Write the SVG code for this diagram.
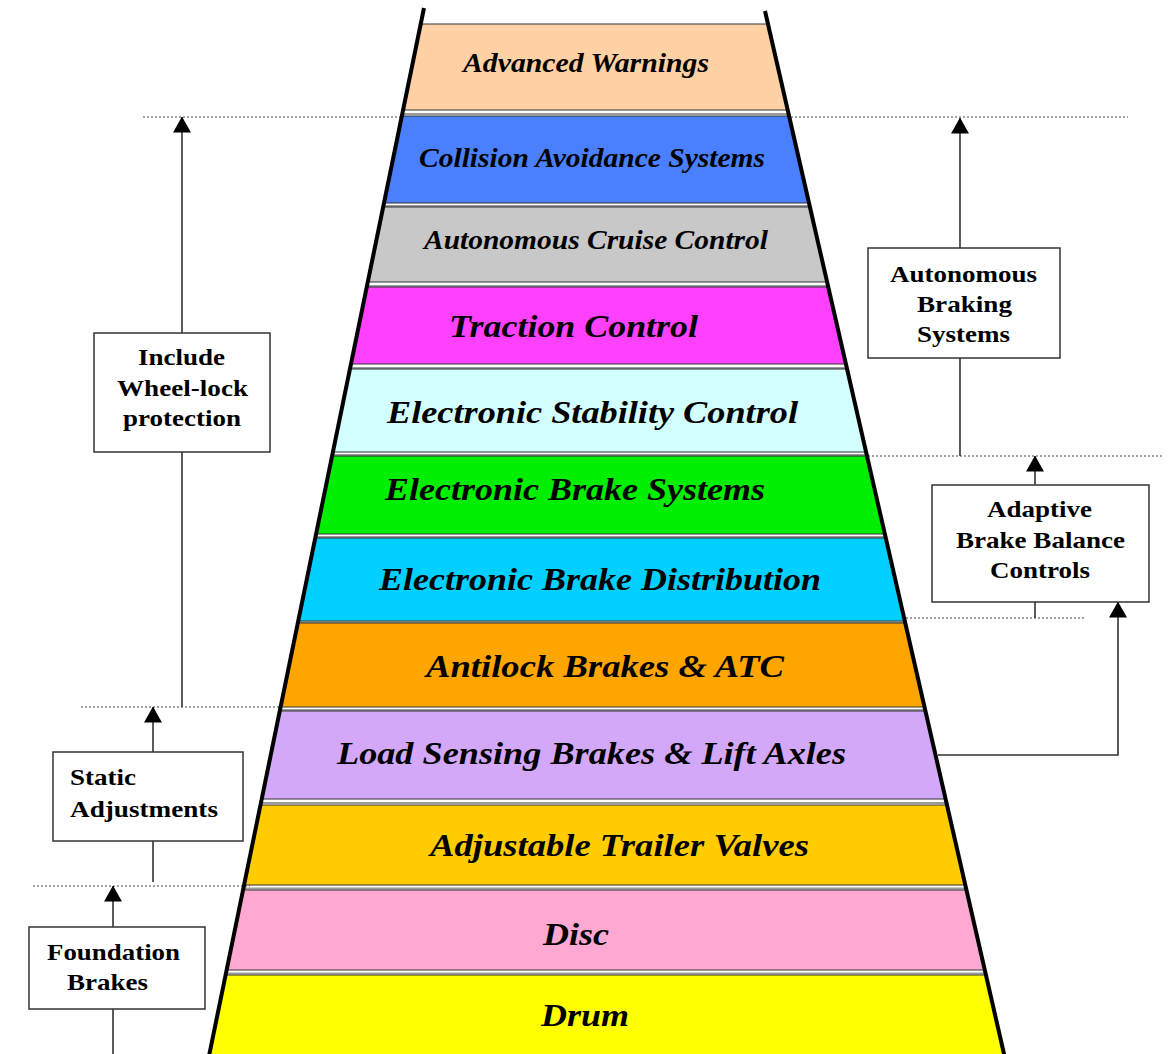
<svg xmlns="http://www.w3.org/2000/svg" width="1171" height="1054" viewBox="0 0 1171 1054">
<defs>
<style>
.band{stroke:#333;stroke-width:1}
.sep{stroke:#9a9a9a;stroke-width:2}
.bt{font-family:"Liberation Serif","Times New Roman",serif;font-weight:bold;font-style:italic;fill:#000}
.box{fill:#fff;stroke:#333;stroke-width:1.5}
.lt{font-family:"Liberation Serif","Times New Roman",serif;font-weight:bold;font-size:23px;fill:#000}
.conn{fill:none;stroke:#333;stroke-width:1.6}
.dot{fill:none;stroke:#444;stroke-width:1;stroke-dasharray:2 2}
.edge{stroke:#000;stroke-width:4;fill:none}
</style>
<marker id="ah" viewBox="0 0 16 18" refX="15.5" refY="9" markerWidth="16" markerHeight="18" markerUnits="userSpaceOnUse" orient="auto">
<path d="M0 0 L16 9 L0 18 Z" fill="#000"/>
</marker>
</defs>
<rect width="1171" height="1054" fill="#fff"/>

<g id="dotted-levels">
<line class="dot" x1="143" y1="117" x2="1128" y2="117"/>
<line class="dot" x1="868" y1="456" x2="1163" y2="456"/>
<line class="dot" x1="878" y1="618" x2="1085" y2="618"/>
<line class="dot" x1="81" y1="707" x2="280" y2="707"/>
<line class="dot" x1="33" y1="886" x2="250" y2="886"/>
</g>

<g id="separators">
<line class="sep" x1="403" y1="114" x2="788" y2="114"/>
<line class="sep" x1="383" y1="206" x2="810" y2="206"/>
<line class="sep" x1="367" y1="286" x2="828" y2="286"/>
<line class="sep" x1="350" y1="368" x2="847" y2="368"/>
<line class="sep" x1="332" y1="455" x2="867" y2="455"/>
<line class="sep" x1="315" y1="537" x2="886" y2="537"/>
<line class="sep" x1="298" y1="622.5" x2="905" y2="622.5"/>
<line class="sep" x1="280" y1="710" x2="925" y2="710"/>
<line class="sep" x1="260" y1="803" x2="947" y2="803"/>
<line class="sep" x1="243" y1="888.5" x2="966" y2="888.5"/>
<line class="sep" x1="226" y1="973.5" x2="986" y2="973.5"/>
</g>

<g id="band-advanced-warnings">
<polygon class="band" fill="#FFD1A4" points="420.7,24 768,24 787.7,110 403,110"/>
<text class="bt" x="463" y="72" font-size="27" textLength="246" lengthAdjust="spacingAndGlyphs">Advanced Warnings</text>
</g>
<g id="band-collision-avoidance">
<polygon class="band" fill="#4A80FF" points="401.8,116 789.1,116 809,203 383.9,203"/>
<text class="bt" x="419" y="167" font-size="27" textLength="346" lengthAdjust="spacingAndGlyphs">Collision Avoidance Systems</text>
</g>
<g id="band-autonomous-cruise">
<polygon class="band" fill="#C8C8C8" points="383.1,207 809.9,207 827.1,282 367.7,282"/>
<text class="bt" x="424" y="249" font-size="27" textLength="344" lengthAdjust="spacingAndGlyphs">Autonomous Cruise Control</text>
</g>
<g id="band-traction-control">
<polygon class="band" fill="#FF40FF" points="366.7,287 828.3,287 846,364 350.8,364"/>
<text class="bt" x="449" y="337" font-size="31" textLength="249" lengthAdjust="spacingAndGlyphs">Traction Control</text>
</g>
<g id="band-esc">
<polygon class="band" fill="#D3FFFF" points="349.8,369 847.1,369 866.1,452 332.8,452"/>
<text class="bt" x="387" y="423" font-size="31" textLength="411" lengthAdjust="spacingAndGlyphs">Electronic Stability Control</text>
</g>
<g id="band-ebs">
<polygon class="band" fill="#00EE00" points="331.9,456 867,456 884.9,534 315.9,534"/>
<text class="bt" x="385" y="500" font-size="31" textLength="380" lengthAdjust="spacingAndGlyphs">Electronic Brake Systems</text>
</g>
<g id="band-ebd">
<polygon class="band" fill="#00D0FF" points="315.1,538 885.8,538 904.9,621 298,621"/>
<text class="bt" x="379" y="590" font-size="31" textLength="442" lengthAdjust="spacingAndGlyphs">Electronic Brake Distribution</text>
</g>
<g id="band-antilock">
<polygon class="band" fill="#FFA500" points="297.6,623 905.3,623 924.6,707 280.4,707"/>
<text class="bt" x="426" y="677" font-size="31" textLength="358" lengthAdjust="spacingAndGlyphs">Antilock Brakes &amp; ATC</text>
</g>
<g id="band-load-sensing">
<polygon class="band" fill="#D3A8F9" points="279.5,711 925.5,711 945.7,799 261.4,799"/>
<text class="bt" x="337" y="764" font-size="31" textLength="509" lengthAdjust="spacingAndGlyphs">Load Sensing Brakes &amp; Lift Axles</text>
</g>
<g id="band-trailer-valves">
<polygon class="band" fill="#FFCC00" points="260.2,805 947.1,805 965.4,885 243.8,885"/>
<text class="bt" x="430" y="856" font-size="31" textLength="379" lengthAdjust="spacingAndGlyphs">Adjustable Trailer Valves</text>
</g>
<g id="band-disc">
<polygon class="band" fill="#FFA8D2" points="242.8,890 966.6,890 984.9,970 226.3,970"/>
<text class="bt" x="543" y="945" font-size="31" textLength="66" lengthAdjust="spacingAndGlyphs">Disc</text>
</g>
<g id="band-drum">
<polygon class="band" fill="#FFFF00" points="225.3,975 986.1,975 1004.2,1055 209.1,1055"/>
<text class="bt" x="541" y="1026" font-size="31" textLength="88" lengthAdjust="spacingAndGlyphs">Drum</text>
</g>

<g id="pyramid-edges">
<line class="edge" x1="424" y1="8" x2="209" y2="1056"/>
<line class="edge" x1="765" y1="11" x2="1004.5" y2="1056"/>
</g>

<g id="connectors">
<line class="conn" x1="182" y1="333" x2="182" y2="117" marker-end="url(#ah)"/>
<line class="conn" x1="182" y1="452" x2="182" y2="707"/>
<line class="conn" x1="960" y1="248" x2="960" y2="118" marker-end="url(#ah)"/>
<line class="conn" x1="960" y1="358" x2="960" y2="456"/>
<line class="conn" x1="1035" y1="485" x2="1035" y2="456" marker-end="url(#ah)"/>
<line class="conn" x1="1035" y1="602" x2="1035" y2="618"/>
<path class="conn" d="M938 755 H1118 V602" marker-end="url(#ah)"/>
<line class="conn" x1="153" y1="752" x2="153" y2="707" marker-end="url(#ah)"/>
<line class="conn" x1="153" y1="841" x2="153" y2="882"/>
<line class="conn" x1="113" y1="927" x2="113" y2="886" marker-end="url(#ah)"/>
<line class="conn" x1="113" y1="1009" x2="113" y2="1054"/>
</g>

<g id="box-wheel-lock">
<rect class="box" x="94" y="333" width="176" height="119"/>
<text class="lt" x="138" y="365" textLength="87" lengthAdjust="spacingAndGlyphs">Include</text>
<text class="lt" x="117" y="396" textLength="131" lengthAdjust="spacingAndGlyphs">Wheel-lock</text>
<text class="lt" x="123" y="426" textLength="118" lengthAdjust="spacingAndGlyphs">protection</text>
</g>
<g id="box-autonomous-braking">
<rect class="box" x="868" y="248" width="192" height="110"/>
<text class="lt" x="890" y="282" textLength="147" lengthAdjust="spacingAndGlyphs">Autonomous</text>
<text class="lt" x="917" y="312" textLength="95" lengthAdjust="spacingAndGlyphs">Braking</text>
<text class="lt" x="917" y="342" textLength="93" lengthAdjust="spacingAndGlyphs">Systems</text>
</g>
<g id="box-adaptive-brake-balance">
<rect class="box" x="932" y="485" width="217" height="117"/>
<text class="lt" x="987" y="517" textLength="105" lengthAdjust="spacingAndGlyphs">Adaptive</text>
<text class="lt" x="956" y="548" textLength="169" lengthAdjust="spacingAndGlyphs">Brake Balance</text>
<text class="lt" x="990" y="578" textLength="100" lengthAdjust="spacingAndGlyphs">Controls</text>
</g>
<g id="box-static-adjustments">
<rect class="box" x="53" y="752" width="190" height="89"/>
<text class="lt" x="70" y="785" textLength="66" lengthAdjust="spacingAndGlyphs">Static</text>
<text class="lt" x="70" y="817" textLength="148" lengthAdjust="spacingAndGlyphs">Adjustments</text>
</g>
<g id="box-foundation-brakes">
<rect class="box" x="29" y="927" width="176" height="82"/>
<text class="lt" x="47" y="960" textLength="133" lengthAdjust="spacingAndGlyphs">Foundation</text>
<text class="lt" x="67" y="990" textLength="81" lengthAdjust="spacingAndGlyphs">Brakes</text>
</g>
</svg>
